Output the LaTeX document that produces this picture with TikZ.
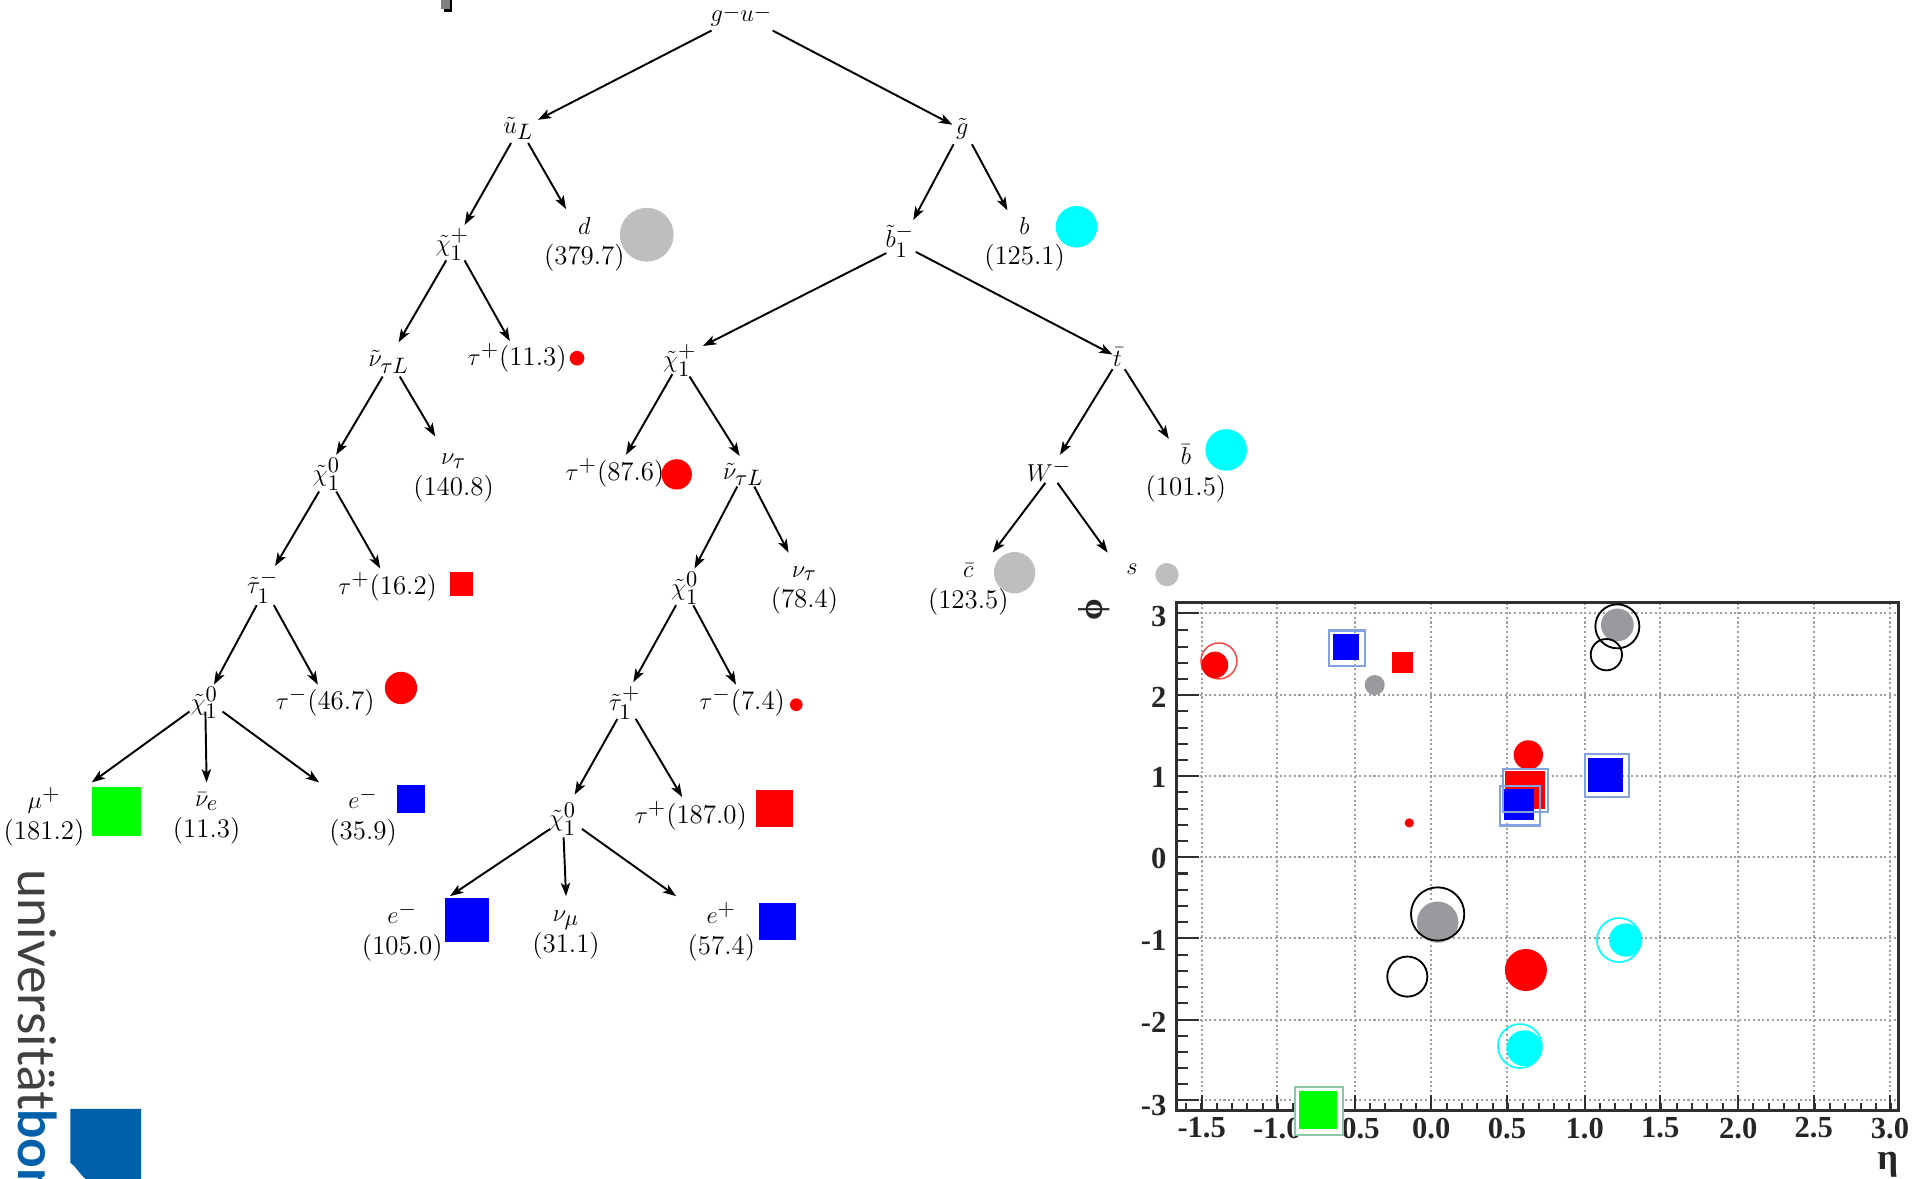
\documentclass[tikz,border=0pt]{standalone}
\usepackage{fontspec}
\usetikzlibrary{arrows.meta}
\newfontfamily\plotfont{Liberation Serif}
\newfontfamily\logofont{Lato}
\DeclareMathSizes{13.2}{13.2}{10.5}{8}
\definecolor{mgray}{HTML}{BEBEBE}
\definecolor{dgray}{HTML}{9B999D}
\definecolor{mcyan}{HTML}{00FFFF}
\definecolor{mgreen}{HTML}{00FF00}
\definecolor{ublue}{HTML}{0060AA}
\definecolor{boxblue}{HTML}{84A2E0}
\definecolor{boxgreen}{HTML}{8CC8A8}
\definecolor{framec}{HTML}{303030}
\definecolor{gridc}{HTML}{A0A0A0}
\newcommand{\conn}[4]{\draw[arr] ([shift={(#2)}]#1.center) -- ([shift={(#4)}]#3.center);}
\newcommand{\sqm}[5]{\fill[#1] (#2,#3) rectangle (#4,#5);}
\newcommand{\lpair}[2]{$#1$\\(#2)}
\newcommand{\dashsup}{\raisebox{1.6pt}{$\scriptstyle-$}}
\tikzset{
  arr/.style={line width=0.95pt,black,-{Stealth[length=6.5pt,width=4.6pt,inset=1.6pt]}},
  lab/.style={inner sep=0pt,outer sep=0pt,align=center,text=black,font=\fontsize{13.2}{15}\selectfont},
  ptick/.style={inner sep=0pt,outer sep=0pt,text=black!85,font=\plotfont\bfseries\fontsize{15}{15}\selectfont},
  outl/.style={draw=boxblue,line width=1.1pt}
}
\begin{document}
\begin{tikzpicture}[x=0.6pt,y=-0.6pt]
\useasboundingbox (0,0) rectangle (1568,964.35);
\fill[white] (0,0) rectangle (1568,964.35);
% top mark
\fill[black] (368,0) rectangle (370,9.5);
\fill[black] (363,7) rectangle (370,9.5);
\fill[gray] (361,0) rectangle (368,7);
% tree nodes
\node[lab] (gu) at (606,13) {$g$\dashsup$u$\dashsup};
\node[lab] (uL) at (424,105) {$\tilde{u}_L$};
\node[lab] (gl) at (787,105) {$\tilde{g}$};
\node[lab] (chiA) at (370,200) {$\tilde{\chi}_1^{+}$};
\node[lab] (d) at (478,200) {\lpair{d}{379.7}};
\node[lab] (bs) at (736,197) {$\tilde{b}_1^{-}$};
\node[lab] (b) at (838,200) {\lpair{b}{125.1}};
\node[lab] (nuA) at (318,296) {$\tilde{\nu}_{\tau L}$};
\node[lab] (tauA) at (423,293) {$\tau^{+}$(11.3)};
\node[lab] (chiB) at (556,295) {$\tilde{\chi}_1^{+}$};
\node[lab] (tt) at (914,292) {$\bar{t}$};
\node[lab] (tauB) at (503,387) {$\tau^{+}$(87.6)};
\node[lab] (nuB) at (608,388) {$\tilde{\nu}_{\tau L}$};
\node[lab] (Wm) at (858,385) {$W^{-}$};
\node[lab] (bb) at (970,387) {\lpair{\bar{b}}{101.5}};
\node[lab] (chiC) at (267,388) {$\tilde{\chi}_1^{0}$};
\node[lab] (ntA) at (371,391) {\lpair{\nu_\tau}{140.8}};
\node[lab] (tmA) at (215,480) {$\tilde{\tau}_1^{-}$};
\node[lab] (tauC) at (317,480) {$\tau^{+}$(16.2)};
\node[lab] (chiD) at (560,481) {$\tilde{\chi}_1^{0}$};
\node[lab] (ntB) at (658,483) {\lpair{\nu_\tau}{78.4}};
\node[lab] (cb) at (792,482) {\lpair{\bar{c}}{123.5}};
\node[lab] (sq) at (926,466) {$s$};
\node[lab] (chiE) at (167,575) {$\tilde{\chi}_1^{0}$};
\node[lab] (tauD) at (266,574) {$\tau^{-}$(46.7)};
\node[lab] (tmB) at (511,575) {$\tilde{\tau}_1^{+}$};
\node[lab] (tauE) at (607,574) {$\tau^{-}$(7.4)};
\node[lab] (mu) at (36,668) {\lpair{\mu^{+}}{181.2}};
\node[lab] (nue) at (169,669.5) {\lpair{\bar{\nu}_e}{11.3}};
\node[lab] (em) at (297,668) {\lpair{e^{-}}{35.9}};
\node[lab] (chiF) at (460,670) {$\tilde{\chi}_1^{0}$};
\node[lab] (tauF) at (565,667) {$\tau^{+}$(187.0)};
\node[lab] (emB) at (329,762) {\lpair{e^{-}}{105.0}};
\node[lab] (numu) at (463,765) {\lpair{\nu_\mu}{31.1}};
\node[lab] (ep) at (590,762) {\lpair{e^{+}}{57.4}};
% connectors
\conn{gu}{-24,12}{uL}{16,-7}
\conn{gu}{26,12}{gl}{-8,-3}
\conn{uL}{-6,12}{chiA}{10,-16}
\conn{uL}{8,12}{d}{-15,-29}
\conn{chiA}{-5,13}{nuA}{8,-16}
\conn{chiA}{10,13}{tauA}{-6,-14}
\conn{nuA}{-5,12}{chiC}{8,-16}
\conn{nuA}{9,12}{ntA}{-15,-34}
\conn{chiC}{-6,14}{tmA}{10,-17}
\conn{chiC}{8,14}{tauC}{-6,-15}
\conn{tmA}{-5,15}{chiE}{8,-15}
\conn{tmA}{9,15}{tauD}{-6,-14}
\conn{chiE}{-12,7}{mu}{39,-28}
\conn{chiE}{1,7}{nue}{0,-29.5}
\conn{chiE}{15,7}{em}{-36,-28}
\conn{gl}{-7,13}{bs}{11,-17}
\conn{gl}{8,13}{b}{-14,-28}
\conn{bs}{-11,10}{chiB}{19,-12}
\conn{bs}{13,9}{tt}{-4,-2}
\conn{chiB}{-6,11}{tauB}{9,-15}
\conn{chiB}{8,13}{nuB}{-3,-15}
\conn{nuB}{-5,10}{chiD}{8,-16}
\conn{nuB}{9,10}{ntB}{-13,-31}
\conn{chiD}{-7,14}{tmB}{7,-17}
\conn{chiD}{7,14}{tauE}{-5,-14}
\conn{tmB}{-6,13}{chiF}{10,-20}
\conn{tmB}{9,13}{tauF}{-7,-15}
\conn{chiF}{-10,8}{emB}{39,-29}
\conn{chiF}{1,15}{numu}{0,-32}
\conn{chiF}{16,8}{ep}{-37,-29}
\conn{tt}{-4,10}{Wm}{9,-13}
\conn{tt}{6,10}{bb}{-14,-28}
\conn{Wm}{-3,10}{cb}{20,-30}
\conn{Wm}{7,10}{sq}{-20,-14}
% tree markers
\fill[mgray] (529,192) circle (22);
\fill[mcyan] (880.5,185.5) circle (17);
\fill[red] (472,293) circle (6);
\fill[red] (553.5,388) circle (12.4);
\fill[mcyan] (1003,368) circle (17);
\fill[red] (328,562.7) circle (13.2);
\fill[mgray] (829.9,468.4) circle (16.9);
\fill[mgray] (954.5,470) circle (9.5);
\fill[red] (651.3,576.4) circle (5.2);
\sqm{red}{367.9}{467.8}{386.6}{487.5}
\sqm{mgreen}{75.1}{643.7}{115.2}{683.4}
\sqm{blue}{324.8}{641.9}{347.5}{664.6}
\sqm{blue}{363.9}{734.3}{400}{770.1}
\sqm{red}{618.3}{646.1}{648.6}{676.1}
\sqm{blue}{620.8}{738.6}{651}{768.8}
% logo
\begin{scope}
\clip (0,700) rectangle (130,964.35);
\node[inner sep=0pt,anchor=base west,rotate=-90,text=black!75,font=\logofont\fontsize{25.5}{26}\selectfont] (logoa) at (15,711) {universität};
\node[inner sep=0pt,anchor=base west,rotate=-90,text=ublue,font=\logofont\bfseries\fontsize{25.5}{26}\selectfont] (logob) at (15,907) {bonn};
\fill[ublue] (57.5,907) -- (115.5,907) -- (115.5,964.35) -- (70,964.35) .. controls (65,960) and (62,954) .. (57.5,951) -- cycle;
\end{scope}
% plot: grid
\foreach \gx in {982.9,1044.8,1108.6,1170.7,1232.6,1296.2,1358,1421.8,1483.5,1545.9}
  \draw[gridc,line width=1pt,dash pattern=on 1pt off 1.3pt] (\gx,493) -- (\gx,908.4);
\foreach \gy in {501.7,568.7,634.5,701.2,767,834.3,899.7}
  \draw[gridc,line width=1pt,dash pattern=on 1pt off 1.3pt] (962.4,\gy) -- (1552.5,\gy);
% plot: ticks
\foreach \gy in {501.7,568.7,634.5,701.2,767,834.3,899.7}
  \draw[framec,line width=1.1pt] (962.4,\gy) -- ++(18,0);
\foreach \k in {-3,...,2}
  \foreach \m in {1,2,3,4}
    \draw[framec,line width=1pt] (962.4,{701.2-66.3*(\k+0.2*\m)}) -- ++(9.5,0);
\foreach \gx in {982.9,1044.8,1108.6,1170.7,1232.6,1296.2,1358,1421.8,1483.5,1545.9}
  \draw[framec,line width=1.1pt] (\gx,908.4) -- ++(0,-13);
\foreach \k in {-16,...,30}
  \draw[framec,line width=1pt] ({1170.7+12.54*\k},908.4) -- ++(0,-6);
\draw[framec,line width=1.4pt] (962.4,493) rectangle (1552.5,908.4);
% plot: tick labels
\foreach \gy/\t/\ty in {501.7/3/504,568.7/2/570.5,634.5/1/636,701.2/0/702.5,767/-1/769,834.3/-2/836,899.7/-3/904}
  \node[ptick,anchor=east] at (954,\ty) {\t};
\foreach \gx/\t in {982.9/-1.5,1044.8/-1.0,1108.6/-0.5,1170.7/0.0,1232.6/0.5,1296.2/1.0,1358/1.5,1421.8/2.0,1483.5/2.5,1545.9/3.0}
  \node[ptick] at (\gx,922.7) {\t};
\node[inner sep=0pt,text=black!85,font=\plotfont\bfseries\fontsize{18}{18}\selectfont] (etaLabel) at (1544,953) {η};
\node[inner sep=0pt,rotate=90,text=black!85,font=\plotfont\bfseries\fontsize{17}{17}\selectfont] (phiLabel) at (895,498.5) {ϕ};
% plot markers
\draw[red!75!white,line width=0.7pt] (997,540.6) circle (14.7);
\fill[red] (993.7,543.9) circle (10.9);
\fill[blue] (1090.5,518.8) rectangle (1111.5,539.8);
\draw[outl] (1087.3,515.8) rectangle (1116.4,544.7);
\sqm{red}{1138.2}{533}{1155.4}{550.2}
\fill[dgray] (1124.4,560.3) circle (8.2);
\fill[red] (1152.7,673.1) circle (3.8);
\fill[dgray] (1322.9,511.2) circle (13.4);
\draw[black,line width=0.9pt] (1322.9,512.3) circle (18);
\draw[black,line width=0.9pt] (1313.9,535.5) circle (12.8);
\fill[red] (1250.1,617.5) circle (12);
\sqm{red}{1231.2}{630.4}{1263.7}{661.7}
\sqm{blue}{1230.2}{645.6}{1254.7}{670.7}
\draw[outl] (1229.6,629) rectangle (1266.4,664.4);
\draw[outl] (1226.9,642.9) rectangle (1259.6,675.3);
\fill[blue] (1299.1,619.7) rectangle (1327.2,647.5);
\draw[outl] (1296.2,616.7) rectangle (1332.1,652.1);
\fill[mgray] (1175.9,754.4) circle (16.9);
\begin{scope}
\clip (1175.9,747.6) circle (21.8);
\fill[dgray] (1175.9,754.4) circle (16.9);
\end{scope}
\draw[black,line width=0.9pt] (1175.9,747.6) circle (21.8);
\draw[black,line width=0.9pt] (1151.1,798.8) circle (16.4);
\fill[red] (1248.1,793.4) circle (17.2);
\draw[mcyan,line width=0.8pt] (1243.2,855.6) circle (18);
\fill[mcyan] (1246.8,857.4) circle (14.7);
\draw[mcyan,line width=0.8pt] (1324.2,768.9) circle (18);
\fill[mcyan] (1329.7,768.9) circle (13.6);
\fill[white] (1059.2,888.8) rectangle (1098.3,928.4);
\draw[boxgreen,line width=1.1pt] (1059.2,888.8) rectangle (1098.3,928.4);
\sqm{mgreen}{1062.5}{892.1}{1093.8}{923.4}
\end{tikzpicture}
\end{document}
